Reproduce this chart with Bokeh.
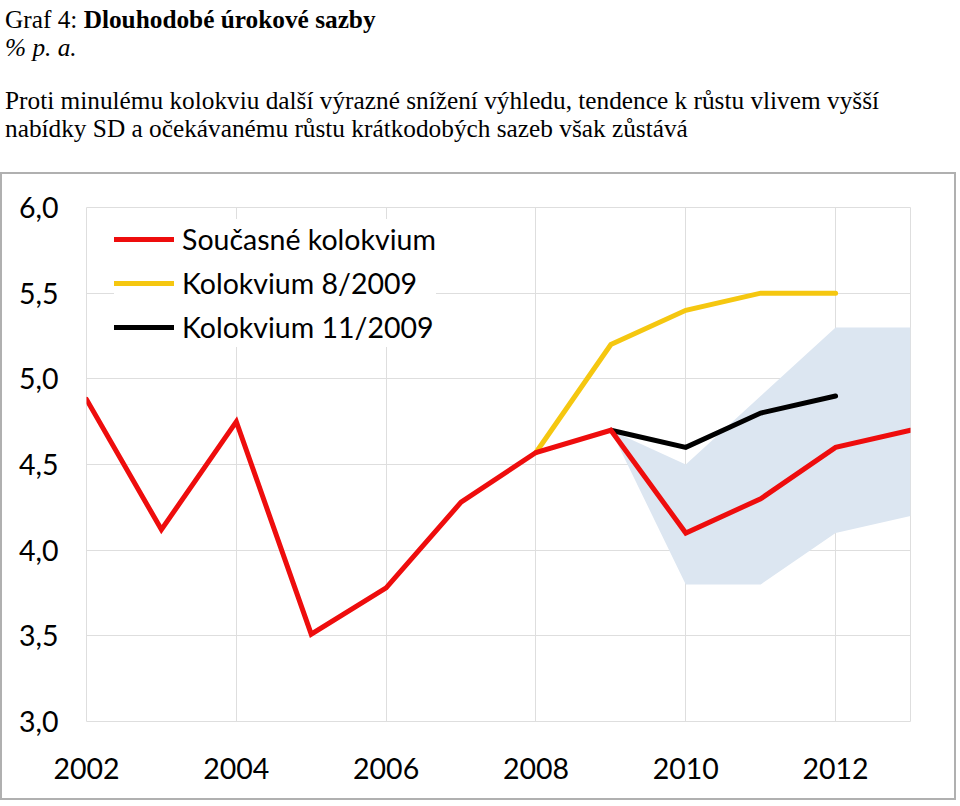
from bokeh.plotting import figure
from bokeh.models import Div, Legend, LegendItem, CustomJSTickFormatter, FixedTicker, Range1d
from bokeh.layouts import column
from bokeh.embed import file_html
from bokeh.resources import INLINE

# ---- data ----
years = [2002, 2003, 2004, 2005, 2006, 2007, 2008, 2009, 2010, 2011, 2012, 2013]
current = [4.88, 4.12, 4.75, 3.51, 3.78, 4.28, 4.57, 4.70, 4.10, 4.30, 4.60, 4.70]

years_aug = [2008, 2009, 2010, 2011, 2012]
kolokvium_8_2009 = [4.57, 5.20, 5.40, 5.50, 5.50]

years_nov = [2009, 2010, 2011, 2012]
kolokvium_11_2009 = [4.70, 4.60, 4.80, 4.90]

years_band = [2009, 2010, 2011, 2012, 2013]
band_lower = [4.70, 3.80, 3.80, 4.10, 4.20]
band_upper = [4.70, 4.50, 4.90, 5.30, 5.30]

x_ticks = [2002, 2004, 2006, 2008, 2010, 2012]
y_ticks = [3.0, 3.5, 4.0, 4.5, 5.0, 5.5, 6.0]

labels = ["Současné kolokvium", "Kolokvium 8/2009", "Kolokvium 11/2009"]

RED = "#ee0d0d"
YELLOW = "#f5c710"
BLACK = "#000000"
BAND = "#dce6f1"
GRID = "#dedede"

header_html = """
<div style="font-family:'Liberation Serif'; font-size:25.3px; line-height:28px; color:#000; white-space:nowrap;">
Graf 4: <b>Dlouhodobé úrokové sazby</b><br>
<i>% p. a.</i><br>
<div style="height:25px"></div>
Proti minulému kolokviu další výrazné snížení výhledu, tendence k růstu vlivem vyšší<br>
nabídky SD a očekávanému růstu krátkodobých sazeb však zůstává
</div>
"""
header = Div(text=header_html, width=944, height=162)

p = figure(width=956, height=628, output_backend="svg", toolbar_location=None,
           x_range=Range1d(2002, 2013), y_range=Range1d(3.0, 6.0),
           min_border_left=84, min_border_right=48, min_border_top=33, min_border_bottom=81,
           styles={"border": "2px solid #b0b0b0"})

p.varea(x=years_band, y1=band_lower, y2=band_upper, fill_color=BAND, fill_alpha=1.0)
r_y = p.line(years_aug, kolokvium_8_2009, line_color=YELLOW, line_width=5, line_join="miter", line_cap="round")
r_b = p.line(years_nov, kolokvium_11_2009, line_color=BLACK, line_width=5, line_join="miter", line_cap="round")
r_r = p.line(years, current, line_color=RED, line_width=5, line_join="miter", line_cap="round")

p.xaxis.ticker = FixedTicker(ticks=x_ticks)
p.yaxis.ticker = FixedTicker(ticks=y_ticks)
p.yaxis.formatter = CustomJSTickFormatter(code="return tick.toFixed(1).replace('.', ',');")

for ax in (p.xaxis, p.yaxis):
    ax.axis_line_color = None
    ax.major_tick_line_color = None
    ax.minor_tick_line_color = None
    ax.major_label_text_font = "Lato"
    ax.major_label_text_font_size = "28.5px"
    ax.major_label_text_color = "#000000"
p.xaxis.major_label_standoff = 30
p.yaxis.major_label_standoff = 22

p.xgrid.grid_line_color = GRID
p.ygrid.grid_line_color = GRID
p.outline_line_color = GRID
p.background_fill_color = "white"
p.border_fill_color = "white"

legend = Legend(items=[LegendItem(label=labels[0], renderers=[r_r]),
                       LegendItem(label=labels[1], renderers=[r_y]),
                       LegendItem(label=labels[2], renderers=[r_b])],
                location=(28, 374), padding=4, spacing=4,
                glyph_width=60, glyph_height=40, label_height=40, label_standoff=8,
                label_text_font="Lato", label_text_font_size="28.5px", label_text_color="#000000",
                border_line_color=None, background_fill_color="white", background_fill_alpha=1.0)
p.add_layout(legend, "center")

layout = column(header, p, spacing=0)
open("out.html", "w").write(file_html(layout, INLINE))
